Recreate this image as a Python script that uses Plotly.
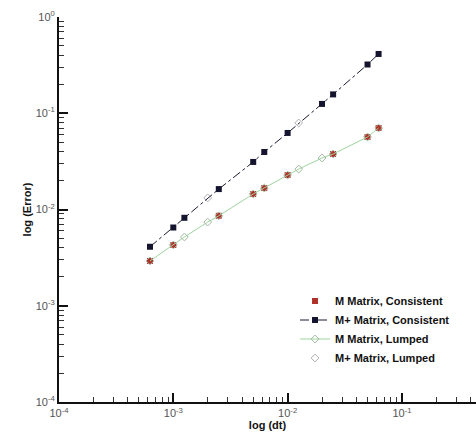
import plotly.graph_objects as go

# Time-step sizes used in the convergence study
dt_all = [0.000625, 0.001, 0.00125, 0.002, 0.0025, 0.005, 0.00625,
          0.01, 0.0125, 0.02, 0.025, 0.05, 0.0625]

# M+ Matrix, Consistent
dt_mp_cons = [0.000625, 0.001, 0.00125, 0.0025, 0.005, 0.00625,
              0.01, 0.02, 0.025, 0.05, 0.0625]
err_mp_cons = [0.0041, 0.0065, 0.0082, 0.0163, 0.0312, 0.0396,
               0.0624, 0.125, 0.157, 0.321, 0.413]

# M+ Matrix, Lumped
dt_mp_lump = [0.002, 0.0125]
err_mp_lump = [0.0132, 0.0793]

# M Matrix, Consistent
dt_m_cons = [0.000625, 0.001, 0.0025, 0.005, 0.00625, 0.01, 0.025, 0.05, 0.0625]
err_m_cons = [0.00292, 0.00428, 0.0086, 0.0145, 0.0167, 0.0228, 0.0377, 0.0567, 0.0703]

# M Matrix, Lumped
dt_m_lump = dt_all
err_m_lump = [0.00292, 0.00428, 0.00518, 0.0074, 0.0086, 0.0145, 0.0167,
              0.0228, 0.0263, 0.0343, 0.0377, 0.0567, 0.0703]

x_tick_vals = [1e-4, 1e-3, 1e-2, 1e-1]
x_tick_text = ["10<sup>-4</sup>", "10<sup>-3</sup>", "10<sup>-2</sup>", "10<sup>-1</sup>"]
y_tick_vals = [1e-4, 1e-3, 1e-2, 1e-1, 1]
y_tick_text = ["10<sup>-4</sup>", "10<sup>-3</sup>", "10<sup>-2</sup>", "10<sup>-1</sup>", "10<sup>0</sup>"]

fig = go.Figure()

fig.add_trace(go.Scatter(
    x=dt_m_cons, y=err_m_cons, mode="markers", name="M Matrix, Consistent",
    marker=dict(symbol="square", size=6, color="#b0302a"),
    legendrank=1,
))
fig.add_trace(go.Scatter(
    x=dt_m_lump, y=err_m_lump, mode="lines+markers", name="M Matrix, Lumped",
    line=dict(color="#9fd49f", width=1),
    marker=dict(symbol="diamond-open", size=6, color="#9fb89f", line=dict(width=1)),
    legendrank=3,
))
fig.add_trace(go.Scatter(
    x=dt_mp_lump, y=err_mp_lump, mode="markers", name="M+ Matrix, Lumped",
    marker=dict(symbol="diamond-open", size=6, color="#b0b0b0", line=dict(width=1)),
    legendrank=4,
))
fig.add_trace(go.Scatter(
    x=dt_mp_cons, y=err_mp_cons, mode="lines+markers", name="M+ Matrix, Consistent",
    line=dict(color="#1a1a33", width=1, dash="dashdot"),
    marker=dict(symbol="square", size=6, color="#14142e"),
    legendrank=2,
))

axis_font = dict(family="Liberation Sans, Arial", size=11, color="#555555")
title_font = dict(family="Liberation Sans, Arial", size=11, color="#111111", weight="bold")

fig.update_xaxes(
    type="log", range=[-4, -0.352],
    tickvals=x_tick_vals, ticktext=x_tick_text,
    ticks="inside", ticklen=9, tickwidth=2, tickcolor="#111111",
    minor=dict(ticks="inside", ticklen=5, tickwidth=1, tickcolor="#333333",
               dtick="D1", showgrid=False),
    showline=True, linecolor="#111111", linewidth=2,
    showgrid=False, zeroline=False,
    tickfont=axis_font,
    title=dict(text="log (dt)", font=title_font, standoff=2),
)
fig.update_yaxes(
    type="log", range=[-4, 0],
    tickvals=y_tick_vals, ticktext=y_tick_text,
    ticks="inside", ticklen=9, tickwidth=2, tickcolor="#111111",
    minor=dict(ticks="inside", ticklen=5, tickwidth=1, tickcolor="#333333",
               dtick="D1", showgrid=False),
    showline=True, linecolor="#111111", linewidth=2,
    showgrid=False, zeroline=False,
    tickfont=axis_font,
    title=dict(text="log (Error)", font=title_font, standoff=2),
)

fig.update_layout(
    width=476, height=439,
    margin=dict(l=59, r=0, t=17, b=37),
    paper_bgcolor="white", plot_bgcolor="white",
    showlegend=True,
    legend=dict(
        x=0.566, y=0.30, xanchor="left", yanchor="top",
        bgcolor="rgba(0,0,0,0)",
        font=dict(family="Liberation Sans, Arial", size=11, color="#111111", weight="bold"),
        traceorder="normal",
    ),
)

fig.write_html("out.html")
